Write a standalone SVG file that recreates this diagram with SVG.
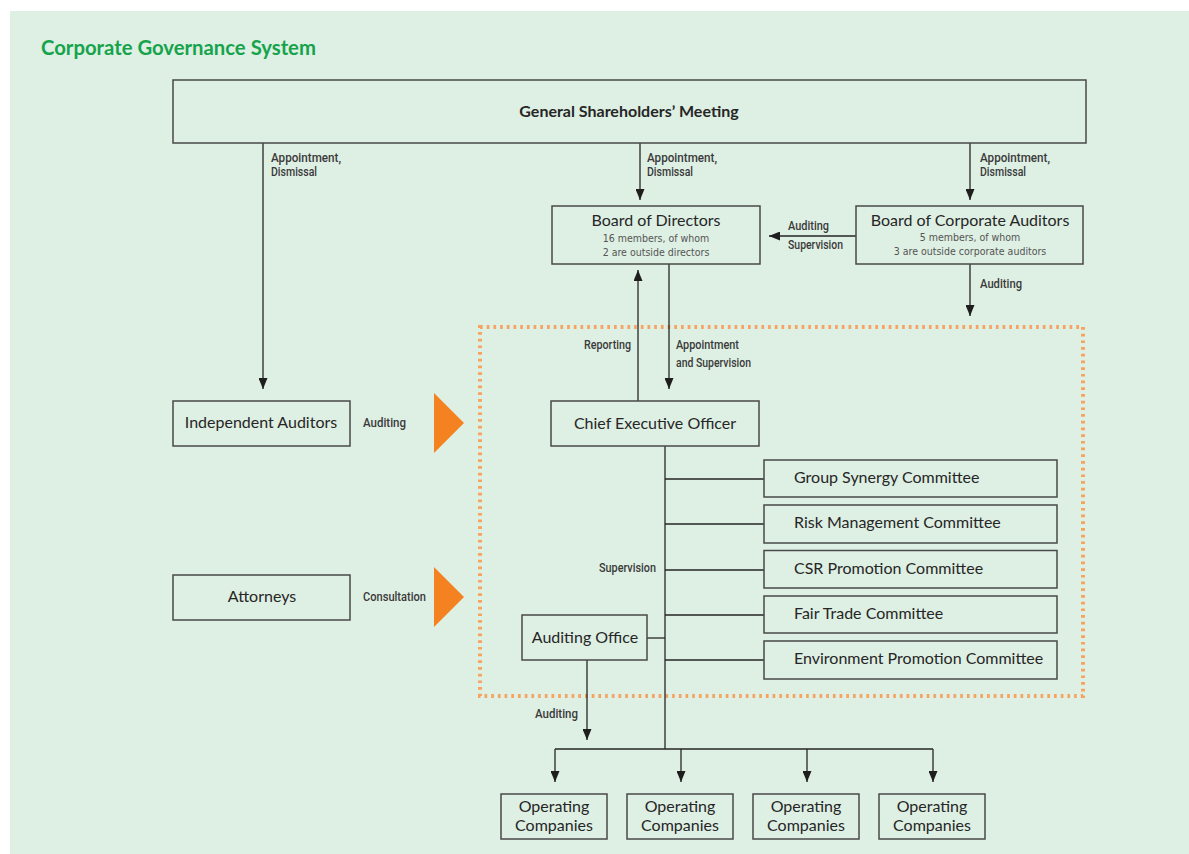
<svg xmlns="http://www.w3.org/2000/svg" width="1189" height="854" viewBox="0 0 1189 854">
<defs>
<style>
.box{fill:none;stroke:#4a4a4a;stroke-width:1.5}
.t{font-family:Lato,"Open Sans",sans-serif;font-size:16px;fill:#262626}
.sub{font-family:"DejaVu Sans Condensed","Liberation Sans Narrow",sans-serif;font-size:10.5px;fill:#555}
.lbl{font-family:Roboto,"DejaVu Sans Condensed",sans-serif;font-size:12px;font-weight:500;fill:#3a3a3a}
.con{fill:none;stroke:#262626;stroke-width:1.3}
.arr{marker-end:url(#ah)}
</style>
<marker id="ah" viewBox="0 0 11 9" markerWidth="11" markerHeight="9" refX="11" refY="4.5" orient="auto" markerUnits="userSpaceOnUse">
<path d="M0,0 L11,4.5 L0,9 z" fill="#1e1e1e"/>
</marker>
</defs>
<rect x="10" y="11" width="1179" height="843" fill="#deefe3"/>
<text x="41" y="55" font-family="Lato,'Open Sans',sans-serif" font-size="20.3" font-weight="bold" fill="#15a34c">Corporate Governance System</text>

<rect x="480" y="327" width="603" height="369" fill="none" stroke="#f7a463" stroke-width="4" stroke-dasharray="2.7 4"/>

<g id="connectors">
<path class="con arr" d="M263,143 V389"/>
<path class="con arr" d="M640,143 V200"/>
<path class="con arr" d="M970,143 V200"/>
<path class="con arr" d="M856,236 H769"/>
<path class="con arr" d="M970,264 V316"/>
<path class="con arr" d="M638,401 V270"/>
<path class="con arr" d="M669,264 V389"/>
<path class="con" d="M665,446 V749"/>
<path class="con" d="M665,479 H764 M665,524 H764 M665,570 H764 M665,615 H764 M665,660 H764"/>
<path class="con" d="M647,638 H665"/>
<path class="con arr" d="M587,660 V740"/>
<path class="con" d="M555,749 H933"/>
<path class="con arr" d="M555,749 V782"/>
<path class="con arr" d="M681,749 V782"/>
<path class="con arr" d="M807,749 V782"/>
<path class="con arr" d="M933,749 V782"/>
<polygon points="434,393 464,423 434,453" fill="#f58220"/>
<polygon points="434,567 464,597 434,627" fill="#f58220"/>
<text class="lbl" x="271" y="162" textLength="70" lengthAdjust="spacingAndGlyphs">Appointment,</text>
<text class="lbl" x="271" y="176" textLength="46" lengthAdjust="spacingAndGlyphs">Dismissal</text>
<text class="lbl" x="647" y="162" textLength="70" lengthAdjust="spacingAndGlyphs">Appointment,</text>
<text class="lbl" x="647" y="176" textLength="46" lengthAdjust="spacingAndGlyphs">Dismissal</text>
<text class="lbl" x="980" y="162" textLength="70" lengthAdjust="spacingAndGlyphs">Appointment,</text>
<text class="lbl" x="980" y="176" textLength="46" lengthAdjust="spacingAndGlyphs">Dismissal</text>
<text class="lbl" x="788" y="230" textLength="41" lengthAdjust="spacingAndGlyphs">Auditing</text>
<text class="lbl" x="788" y="249" textLength="55" lengthAdjust="spacingAndGlyphs">Supervision</text>
<text class="lbl" x="980" y="288" textLength="42" lengthAdjust="spacingAndGlyphs">Auditing</text>
<text class="lbl" x="584" y="349" textLength="47" lengthAdjust="spacingAndGlyphs">Reporting</text>
<text class="lbl" x="676" y="349" textLength="63" lengthAdjust="spacingAndGlyphs">Appointment</text>
<text class="lbl" x="676" y="367" textLength="75" lengthAdjust="spacingAndGlyphs">and Supervision</text>
<text class="lbl" x="363" y="427" textLength="43" lengthAdjust="spacingAndGlyphs">Auditing</text>
<text class="lbl" x="363" y="601" textLength="63" lengthAdjust="spacingAndGlyphs">Consultation</text>
<text class="lbl" x="599" y="572" textLength="57" lengthAdjust="spacingAndGlyphs">Supervision</text>
<text class="lbl" x="535" y="718" textLength="43" lengthAdjust="spacingAndGlyphs">Auditing</text>
</g>

<g id="gsm">
<rect class="box" x="173" y="80" width="913" height="63"/>
<text class="t" x="629" y="117" text-anchor="middle" font-size="19" font-weight="bold">General Shareholders’ Meeting</text>
</g>
<g id="bod">
<rect class="box" x="552" y="206" width="208" height="58"/>
<text class="t" x="656" y="226" text-anchor="middle">Board of Directors</text>
<text class="sub" x="656" y="242" text-anchor="middle">16 members, of whom</text>
<text class="sub" x="656" y="256" text-anchor="middle">2 are outside directors</text>
</g>
<g id="bca">
<rect class="box" x="856" y="206" width="227" height="58"/>
<text class="t" x="970" y="226" text-anchor="middle">Board of Corporate Auditors</text>
<text class="sub" x="970" y="241" text-anchor="middle">5 members, of whom</text>
<text class="sub" x="970" y="255" text-anchor="middle">3 are outside corporate auditors</text>
</g>
<g id="ceo">
<rect class="box" x="551" y="401" width="208" height="45"/>
<text class="t" x="655" y="429" text-anchor="middle" font-size="15.6">Chief Executive Officer</text>
</g>
<g id="indep">
<rect class="box" x="173" y="401" width="177" height="45"/>
<text class="t" x="261" y="428" text-anchor="middle">Independent Auditors</text>
</g>
<g id="attorneys">
<rect class="box" x="173" y="575" width="177" height="45"/>
<text class="t" x="262" y="602" text-anchor="middle">Attorneys</text>
</g>
<g id="c1">
<rect class="box" x="764" y="460" width="293" height="37"/>
<text class="t" x="794" y="483">Group Synergy Committee</text>
</g>
<g id="c2">
<rect class="box" x="764" y="505" width="293" height="38"/>
<text class="t" x="794" y="528">Risk Management Committee</text>
</g>
<g id="c3">
<rect class="box" x="764" y="550.5" width="293" height="37.5"/>
<text class="t" x="794" y="574">CSR Promotion Committee</text>
</g>
<g id="c4">
<rect class="box" x="764" y="596" width="293" height="37"/>
<text class="t" x="794" y="619">Fair Trade Committee</text>
</g>
<g id="c5">
<rect class="box" x="764" y="641" width="293" height="38"/>
<text class="t" x="794" y="664">Environment Promotion Committee</text>
</g>
<g id="audoffice">
<rect class="box" x="522" y="615" width="125" height="45"/>
<text class="t" x="585" y="643" text-anchor="middle">Auditing Office</text>
</g>
<g id="op1">
<rect class="box" x="501" y="794" width="106" height="45"/>
<text class="t" x="554" y="812" text-anchor="middle">Operating</text>
<text class="t" x="554" y="831" text-anchor="middle">Companies</text>
</g>
<g id="op2">
<rect class="box" x="627" y="794" width="106" height="45"/>
<text class="t" x="680" y="812" text-anchor="middle">Operating</text>
<text class="t" x="680" y="831" text-anchor="middle">Companies</text>
</g>
<g id="op3">
<rect class="box" x="753" y="794" width="106" height="45"/>
<text class="t" x="806" y="812" text-anchor="middle">Operating</text>
<text class="t" x="806" y="831" text-anchor="middle">Companies</text>
</g>
<g id="op4">
<rect class="box" x="879" y="794" width="106" height="45"/>
<text class="t" x="932" y="812" text-anchor="middle">Operating</text>
<text class="t" x="932" y="831" text-anchor="middle">Companies</text>
</g>
</svg>
